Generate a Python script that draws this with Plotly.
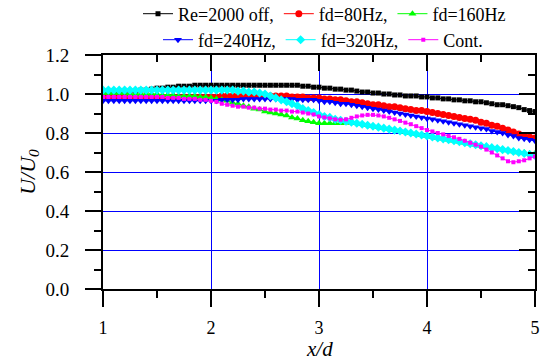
import plotly.graph_objects as go

x_d = [1.00, 1.05, 1.10, 1.15, 1.20, 1.25, 1.30, 1.35, 1.40, 1.45,
       1.50, 1.55, 1.60, 1.65, 1.70, 1.75, 1.80, 1.85, 1.90, 1.95,
       2.00, 2.05, 2.10, 2.15, 2.20, 2.25, 2.30, 2.35, 2.40, 2.45,
       2.50, 2.55, 2.60, 2.65, 2.70, 2.75, 2.80, 2.85, 2.90, 2.95,
       3.00, 3.05, 3.10, 3.15, 3.20, 3.25, 3.30, 3.35, 3.40, 3.45,
       3.50, 3.55, 3.60, 3.65, 3.70, 3.75, 3.80, 3.85, 3.90, 3.95,
       4.00, 4.05, 4.10, 4.15, 4.20, 4.25, 4.30, 4.35, 4.40, 4.45,
       4.50, 4.55, 4.60, 4.65, 4.70, 4.75, 4.80, 4.85, 4.90, 4.95,
       5.00]

re2000_off = [1.000, 1.000, 1.005, 1.005, 1.010, 1.015, 1.015, 1.020, 1.020, 1.025,
              1.030, 1.030, 1.035, 1.035, 1.040, 1.040, 1.040, 1.045, 1.045, 1.045,
              1.045, 1.045, 1.045, 1.045, 1.045, 1.045, 1.045, 1.045, 1.045, 1.045,
              1.045, 1.045, 1.045, 1.045, 1.045, 1.045, 1.045, 1.040, 1.040, 1.035,
              1.035, 1.030, 1.030, 1.025, 1.025, 1.020, 1.020, 1.015, 1.010, 1.010,
              1.005, 1.005, 1.000, 1.000, 0.995, 0.995, 0.990, 0.990, 0.990, 0.985,
              0.985, 0.980, 0.980, 0.975, 0.975, 0.970, 0.970, 0.965, 0.965, 0.960,
              0.960, 0.955, 0.950, 0.945, 0.945, 0.940, 0.935, 0.930, 0.920, 0.915,
              0.910]

fd80 = [0.985, 0.985, 0.985, 0.985, 0.985, 0.985, 0.985, 0.985, 0.985, 0.985,
        0.985, 0.985, 0.985, 0.985, 0.985, 0.985, 0.985, 0.985, 0.985, 0.985,
        0.985, 0.985, 0.990, 0.990, 0.990, 0.990, 0.990, 0.990, 0.990, 0.990,
        0.990, 0.990, 0.990, 0.990, 0.990, 0.985, 0.985, 0.985, 0.980, 0.980,
        0.980, 0.975, 0.975, 0.970, 0.970, 0.965, 0.960, 0.960, 0.955, 0.950,
        0.945, 0.945, 0.940, 0.935, 0.935, 0.930, 0.925, 0.920, 0.915, 0.915,
        0.910, 0.905, 0.900, 0.895, 0.890, 0.885, 0.880, 0.875, 0.870, 0.865,
        0.855, 0.850, 0.840, 0.835, 0.825, 0.815, 0.805, 0.795, 0.785, 0.780,
        0.775]

fd160 = [1.005, 1.005, 1.005, 1.005, 1.005, 1.000, 1.000, 1.000, 1.000, 1.000,
         1.000, 0.995, 0.995, 0.995, 0.990, 0.990, 0.990, 0.990, 0.985, 0.985,
         0.980, 0.975, 0.970, 0.965, 0.955, 0.950, 0.940, 0.935, 0.925, 0.920,
         0.910, 0.905, 0.900, 0.895, 0.890, 0.880, 0.875, 0.865, 0.860, 0.855,
         0.850, 0.850, 0.850, 0.850, 0.850, 0.852, 0.852, 0.850, 0.845, 0.840,
         0.835, 0.830, 0.825, 0.820, 0.815, 0.810, 0.805, 0.800, 0.795, 0.790,
         0.785, 0.780, 0.775, 0.770, 0.765, 0.760, 0.755, 0.750, 0.745, 0.740,
         0.735, 0.730, 0.725, 0.720, 0.715, 0.710, 0.705, 0.700, 0.700, 0.695,
         0.695]

fd240 = [0.965, 0.965, 0.965, 0.965, 0.965, 0.965, 0.965, 0.965, 0.965, 0.965,
         0.965, 0.965, 0.965, 0.965, 0.965, 0.965, 0.965, 0.965, 0.965, 0.965,
         0.965, 0.965, 0.970, 0.970, 0.970, 0.970, 0.975, 0.975, 0.975, 0.975,
         0.975, 0.975, 0.975, 0.975, 0.975, 0.975, 0.970, 0.970, 0.970, 0.970,
         0.965, 0.960, 0.960, 0.955, 0.950, 0.950, 0.945, 0.940, 0.935, 0.930,
         0.925, 0.920, 0.915, 0.910, 0.905, 0.900, 0.895, 0.890, 0.885, 0.880,
         0.875, 0.870, 0.865, 0.860, 0.855, 0.850, 0.845, 0.840, 0.835, 0.830,
         0.825, 0.820, 0.810, 0.805, 0.800, 0.790, 0.785, 0.775, 0.770, 0.765,
         0.760]

fd320 = [1.020, 1.020, 1.020, 1.020, 1.020, 1.020, 1.020, 1.020, 1.020, 1.020,
         1.020, 1.020, 1.020, 1.020, 1.020, 1.020, 1.020, 1.020, 1.020, 1.020,
         1.020, 1.020, 1.020, 1.020, 1.020, 1.015, 1.015, 1.010, 1.010, 1.005,
         1.000, 0.990, 0.980, 0.970, 0.960, 0.950, 0.940, 0.925, 0.915, 0.905,
         0.895, 0.885, 0.880, 0.870, 0.865, 0.860, 0.855, 0.850, 0.845, 0.840,
         0.835, 0.830, 0.825, 0.820, 0.815, 0.810, 0.805, 0.800, 0.795, 0.790,
         0.785, 0.780, 0.775, 0.770, 0.765, 0.760, 0.755, 0.750, 0.745, 0.740,
         0.735, 0.730, 0.725, 0.720, 0.715, 0.710, 0.705, 0.700, 0.695, 0.690,
         0.685]

cont = [0.985, 0.985, 0.985, 0.985, 0.985, 0.985, 0.985, 0.985, 0.985, 0.985,
        0.985, 0.985, 0.980, 0.980, 0.980, 0.975, 0.975, 0.975, 0.970, 0.970,
        0.965, 0.960, 0.950, 0.945, 0.940, 0.935, 0.935, 0.930, 0.930, 0.925,
        0.925, 0.920, 0.920, 0.915, 0.915, 0.910, 0.910, 0.905, 0.900, 0.895,
        0.885, 0.880, 0.875, 0.870, 0.868, 0.870, 0.878, 0.885, 0.890, 0.893,
        0.893, 0.890, 0.885, 0.878, 0.870, 0.862, 0.853, 0.845, 0.835, 0.825,
        0.815, 0.808, 0.800, 0.793, 0.785, 0.778, 0.770, 0.760, 0.750, 0.740,
        0.730, 0.715, 0.700, 0.685, 0.670, 0.655, 0.650, 0.655, 0.660, 0.670,
        0.680]

x_ticks = [1, 2, 3, 4, 5]
y_ticks = [0.0, 0.2, 0.4, 0.6, 0.8, 1.0, 1.2]

FONT = "Liberation Serif"

series = [
    ("Re=2000 off,", re2000_off, "#000000", "square", 5, "legend"),
    ("fd=80Hz,", fd80, "#FF0000", "circle", 7, "legend"),
    ("fd=160Hz", fd160, "#00FF00", "triangle-up", 7, "legend"),
    ("fd=240Hz,", fd240, "#0000FF", "triangle-down", 7, "legend2"),
    ("fd=320Hz,", fd320, "#00FFFF", "diamond", 7, "legend2"),
    ("Cont.", cont, "#FF00FF", "square", 4, "legend2"),
]

fig = go.Figure()
for name, vals, col, sym, sz, lg in series:
    fig.add_trace(go.Scatter(
        x=x_d, y=vals, name=name, mode="lines+markers",
        line=dict(color=col, width=1),
        marker=dict(symbol=sym, size=sz, color=col, line=dict(width=0)),
        legend=lg,
    ))

# invisible trace for the mirrored (top/right) axes
fig.add_trace(go.Scatter(x=[None], y=[None], xaxis="x2", yaxis="y2",
                         showlegend=False, hoverinfo="skip"))

axis_common = dict(
    showline=True, linecolor="black", linewidth=2,
    ticks="outside", ticklen=16, tickwidth=2, tickcolor="black",
    zeroline=False, automargin=False,
)

fig.update_layout(
    width=546, height=360,
    margin=dict(l=103, r=11, t=55, b=71, autoexpand=False),
    font=dict(family=FONT, color="black"),
    plot_bgcolor="white", paper_bgcolor="white",
    xaxis=dict(range=[1, 5], tickvals=x_ticks, ticktext=[str(v) for v in x_ticks],
               tickfont=dict(family=FONT, size=18, color="black"),
               showgrid=True, gridcolor="#0000FF", gridwidth=1,
               minor=dict(dtick=0.5, ticklen=7, tickwidth=2, tickcolor="black",
                          ticks="outside", showgrid=False),
               ticklabelstandoff=5,
               **axis_common),
    yaxis=dict(range=[0, 1.2], tickvals=y_ticks, ticktext=["%.1f" % v for v in y_ticks],
               tickfont=dict(family=FONT, size=19, color="black"),
               showgrid=True, gridcolor="#0000FF", gridwidth=1,
               minor=dict(dtick=0.1, ticklen=7, tickwidth=2, tickcolor="black",
                          ticks="outside", showgrid=False),
               title=dict(text="<i>U/U<sub>0</sub></i>", font=dict(family=FONT, size=22, color="black"),
                          standoff=4),
               ticklabelstandoff=12,
               **axis_common),
    xaxis2=dict(range=[1, 5], overlaying="x", side="top", anchor="y2", automargin=False,
                showline=True, linecolor="black", linewidth=2,
                tickvals=x_ticks, showticklabels=False, showgrid=False, zeroline=False,
                ticks="inside", ticklen=16, tickwidth=2, tickcolor="black",
                minor=dict(dtick=0.5, ticklen=7, tickwidth=2, tickcolor="black",
                           ticks="inside", showgrid=False)),
    yaxis2=dict(range=[0, 1.2], overlaying="y", side="right", anchor="x2", automargin=False,
                showline=True, linecolor="black", linewidth=2,
                tickvals=y_ticks, showticklabels=False, showgrid=False, zeroline=False,
                ticks="inside", ticklen=16, tickwidth=2, tickcolor="black",
                minor=dict(dtick=0.1, ticklen=7, tickwidth=2, tickcolor="black",
                           ticks="inside", showgrid=False)),
    legend=dict(orientation="h", xref="container", yref="container",
                x=138 / 546, xanchor="left", y=1 - 14 / 360, yanchor="middle",
                font=dict(family=FONT, size=18, color="black"), itemwidth=30,
                bgcolor="rgba(0,0,0,0)", tracegroupgap=0),
    legend2=dict(orientation="h", xref="container", yref="container",
                 x=158 / 546, xanchor="left", y=1 - 40 / 360, yanchor="middle",
                 font=dict(family=FONT, size=18, color="black"), itemwidth=30,
                 bgcolor="rgba(0,0,0,0)", tracegroupgap=0),
    annotations=[dict(text="<i>x/d</i>", xref="paper", x=0.5, xanchor="center",
                      yref="paper", y=-0.255, yanchor="middle", showarrow=False,
                      font=dict(family=FONT, size=21, color="black"))],
    showlegend=True,
)

fig.write_html("out.html")
